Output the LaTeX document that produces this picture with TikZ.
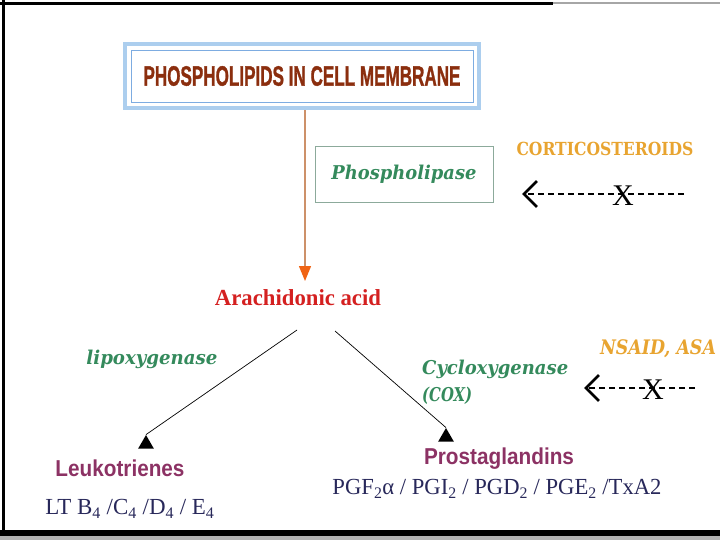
\documentclass[tikz,border=0pt]{standalone}
\usepackage{fontspec}
\setmainfont{Liberation Serif}
\newfontfamily\headfont{Liberation Sans}
\newfontfamily\titlefont[UprightFont={* Bold}, FakeBold=1.5]{Liberation Sans}
\newfontfamily\slabfont{DejaVu Serif}
\usetikzlibrary{positioning,shapes.geometric,fit,arrows.meta}
\definecolor{titlered}{RGB}{139,46,14}
\definecolor{boxblue}{RGB}{172,206,238}
\definecolor{lineblue}{RGB}{125,172,225}
\definecolor{boxgray}{RGB}{140,170,155}
\definecolor{enzgreen}{RGB}{52,138,92}
\definecolor{drugorange}{RGB}{232,164,48}
\definecolor{acidred}{RGB}{212,32,32}
\definecolor{prodpurple}{RGB}{140,50,100}
\definecolor{formnavy}{RGB}{40,40,90}
\definecolor{shaftorange}{RGB}{205,145,105}
\definecolor{headorange}{RGB}{240,100,20}
% squeeze a text to a given width, keeping its height
\newcommand{\fitto}[2]{\resizebox{#1}{\height}{#2}}

\begin{document}
\begin{tikzpicture}[x=1pt, y=-1pt,
    enzyme/.style={text=enzgreen, inner sep=0pt,
      font=\slabfont\bfseries\itshape\fontsize{19}{22}\selectfont},
    drug/.style={text=drugorange, inner sep=0pt,
      font=\slabfont\bfseries\fontsize{18}{20}\selectfont},
    product/.style={text=prodpurple, inner sep=0pt,
      font=\headfont\bfseries\fontsize{23}{26}\selectfont},
    formula/.style={text=formnavy, inner sep=0pt,
      font=\fontsize{23}{26}\selectfont},
    blockline/.style={dashed, dash pattern=on 6pt off 4pt, line width=1.2pt,
      -{Straight Barb[length=13pt, width=26pt, line width=2.8pt]}},
    blockx/.style={inner sep=0pt, font=\fontsize{30}{30}\selectfont},
    headtri/.style={regular polygon, regular polygon sides=3, fill=black,
      inner sep=0pt, minimum size=18pt}]
    \useasboundingbox (0,0) rectangle (720,540);

    % Slide frame
    \draw[line width=3pt] (0,3.5) -- (553,3.5);
    \draw[line width=2pt, gray!70] (553,3.5) -- (720,3.5);
    \draw[line width=3pt] (3.5,0) -- (3.5,531);
    \fill (0,530) rectangle (720,536);
    \fill[gray!60] (0,536) rectangle (720,540);

    % Membrane
    \node (membrane) [draw=lineblue, line width=0.8pt, minimum width=342pt,
      minimum height=52pt, inner sep=0pt, text=titlered] at (302,76)
      {\fitto{317pt}{\titlefont\fontsize{28}{28}\selectfont PHOSPHOLIPIDS IN CELL MEMBRANE}};
    \node (membrane frame) [fit=(membrane), draw=boxblue, line width=4.5pt, inner sep=5.5pt] {};

    % Enzyme and acid
    \node (phospholipase) [enzyme, draw=boxgray, line width=0.8pt, minimum width=178pt,
      minimum height=56pt] at (404,174) {\fitto{145pt}{Phospholipase}};
    \node (arachidonic) [text=acidred, inner sep=0pt,
      font=\bfseries\fontsize{23}{26}\selectfont] at (298,298) {\fitto{166pt}{Arachidonic acid}};
    \coordinate (acid top) at (305,281);
    \draw[shaftorange, line width=1.3pt,
      -{Triangle[width=12pt, length=15pt, color=headorange]}]
      (membrane frame.south -| acid top) -- (acid top);

    % Corticosteroids block
    \node (corticosteroids) [drug] at (605,149) {\fitto{177pt}{CORTICOSTEROIDS}};
    \coordinate (cs tail) at (684,194);
    \coordinate (cs tip) at (522,194);
    \draw[blockline] (cs tail) -- (cs tip);
    \node (cs x) [blockx] at (623,196) {X};

    % Two pathways
    \coordinate (lox start) at (297,330);
    \coordinate (cox start) at (335,331);
    \node (lt head) [headtri] at (146,444) {};
    \node (pg head) [headtri] at (446,437) {};
    \draw[line width=0.7pt] (lox start) -- (lt head.north);
    \draw[line width=0.7pt] (cox start) -- (pg head.north);

    \node (lipoxygenase) [enzyme] at (152,359) {\fitto{131pt}{lipoxygenase}};
    \node (cox) [enzyme, anchor=west] at (422,369) {\fitto{146pt}{Cycloxygenase}};
    \node (cox short) [enzyme, anchor=west] at (422,396) {\fitto{50pt}{(COX)}};

    % NSAID block
    \node (nsaid) [drug, font=\slabfont\bfseries\itshape\fontsize{20}{20}\selectfont]
      at (658,349) {\fitto{116pt}{NSAID, ASA}};
    \coordinate (ns tail) at (695,388);
    \coordinate (ns tip) at (584,388);
    \draw[blockline] (ns tail) -- (ns tip);
    \node (ns x) [blockx] at (653,390) {X};

    % Products
    \node (leukotrienes) [product] at (120,468) {\fitto{129pt}{Leukotrienes}};
    \node (lt list) [formula] at (130,509)
      {\fitto{169pt}{LT B\textsubscript{4} /C\textsubscript{4} /D\textsubscript{4} / E\textsubscript{4}}};
    \node (prostaglandins) [product] at (499,459) {\fitto{150pt}{Prostaglandins}};
    \node (pg list) [formula] at (497,489)
      {\fitto{329pt}{PGF\textsubscript{2}α / PGI\textsubscript{2} / PGD\textsubscript{2} / PGE\textsubscript{2} /TxA2}};
  \end{tikzpicture}
\end{document}
